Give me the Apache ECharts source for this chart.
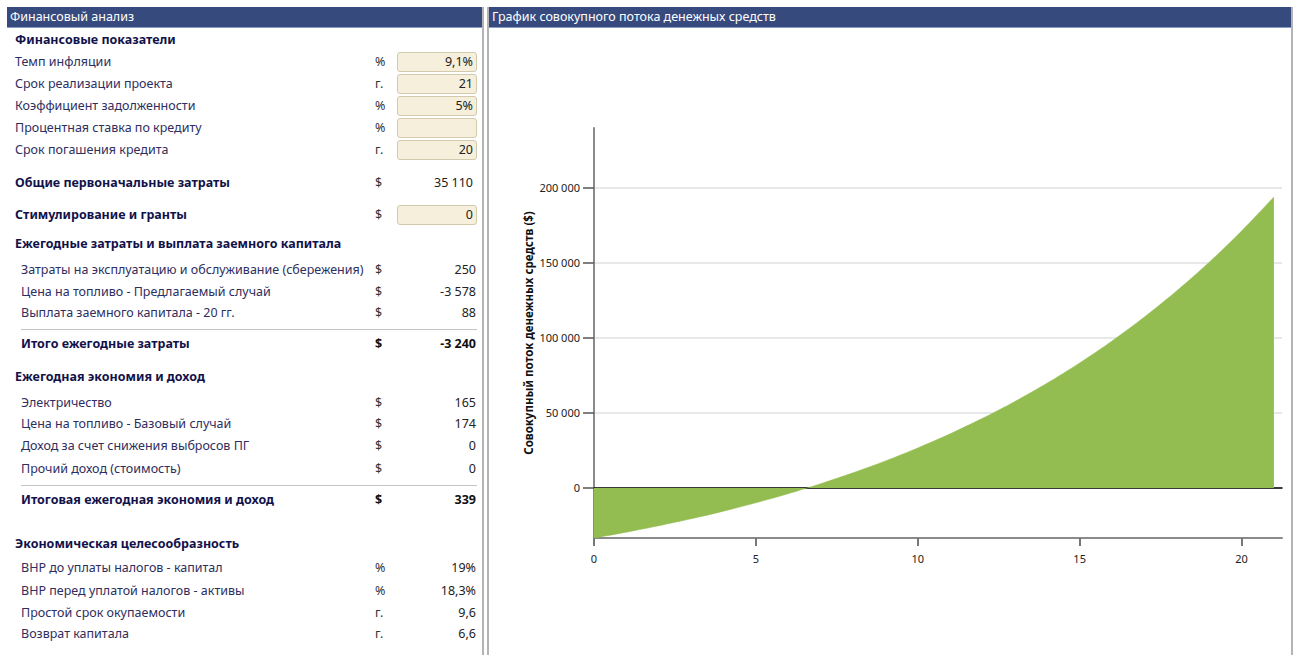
<!DOCTYPE html>
<html lang="ru">
<head>
<meta charset="utf-8">
<title>Финансовый анализ</title>
<script src="https://cdn.jsdelivr.net/npm/echarts@6.0.0/dist/echarts.min.js"></script>
<style>
  html, body { margin: 0; padding: 0; background: #fff; }
  body { width: 1299px; height: 655px; position: relative; overflow: hidden;
         font-family: "Noto Sans", "Open Sans", sans-serif; font-size: 12.5px; }
  .hdr { position: absolute; top: 7px; height: 20px; background: #364a7e;
         border-bottom: 1px solid #8d9cc6; color: #fff; line-height: 20px;
         padding-left: 3px; box-sizing: content-box; white-space: nowrap; }
  .vline { position: absolute; top: 7px; width: 2px; height: 648px; background: #b4b4b4; }
  .row { position: absolute; height: 18px; line-height: 18px; white-space: nowrap; }
  .lbl { color: #2e2e60; }
  .lbl.b { color: #12124a; font-weight: bold; }
  .lbl.i { left: 21px; }
  .lbl.o { left: 15px; }
  .unit { left: 375px; color: #333; }
  .unit.b { font-weight: bold; color: #111; }
  .val { left: 380px; width: 96px; text-align: right; color: #222; }
  .val.b { font-weight: bold; color: #111; }
  .box { position: absolute; left: 397px; width: 80px; height: 20px; box-sizing: border-box;
         background: #f6efdc; border: 1px solid #d3caae; border-radius: 3px;
         text-align: right; padding-right: 3px; line-height: 18px; color: #222; }
  .sep { position: absolute; left: 21px; width: 456px; height: 1px; background: #c4c4c4; }
  #chart { position: absolute; left: 489px; top: 28px; width: 803px; height: 627px; }
</style>
</head>
<body>
<!-- left panel: financial summary table -->
<div class="hdr" style="left:7px; width:473px;">Финансовый анализ</div>
<div class="vline" style="left:482px;"></div>

<div class="row lbl b o" style="top:31px;">Финансовые показатели</div>

<div class="row lbl o" style="top:53px;">Темп инфляции</div>
<div class="row unit" style="top:53px;">%</div>
<div class="box" style="top:52px;">9,1%</div>

<div class="row lbl o" style="top:75px;">Срок реализации проекта</div>
<div class="row unit" style="top:75px;">г.</div>
<div class="box" style="top:74px;">21</div>

<div class="row lbl o" style="top:97px;">Коэффициент задолженности</div>
<div class="row unit" style="top:97px;">%</div>
<div class="box" style="top:96px;">5%</div>

<div class="row lbl o" style="top:119px;">Процентная ставка по кредиту</div>
<div class="row unit" style="top:119px;">%</div>
<div class="box" style="top:118px;"></div>

<div class="row lbl o" style="top:141px;">Срок погашения кредита</div>
<div class="row unit" style="top:141px;">г.</div>
<div class="box" style="top:140px;">20</div>

<div class="row lbl b o" style="top:174px;">Общие первоначальные затраты</div>
<div class="row unit" style="top:174px;">$</div>
<div class="row val" style="top:174px; width:93px;">35 110</div>

<div class="row lbl b o" style="top:206px;">Стимулирование и гранты</div>
<div class="row unit" style="top:206px;">$</div>
<div class="box" style="top:205px;">0</div>

<div class="row lbl b o" style="top:235px;">Ежегодные затраты и выплата заемного капитала</div>

<div class="row lbl i" style="top:261px;">Затраты на эксплуатацию и обслуживание (сбережения)</div>
<div class="row unit" style="top:261px;">$</div>
<div class="row val" style="top:261px;">250</div>

<div class="row lbl i" style="top:283px;">Цена на топливо - Предлагаемый случай</div>
<div class="row unit" style="top:283px;">$</div>
<div class="row val" style="top:283px;">-3 578</div>

<div class="row lbl i" style="top:304px;">Выплата заемного капитала - 20 гг.</div>
<div class="row unit" style="top:304px;">$</div>
<div class="row val" style="top:304px;">88</div>

<div class="sep" style="top:329px;"></div>

<div class="row lbl b i" style="top:335px;">Итого ежегодные затраты</div>
<div class="row unit b" style="top:335px;">$</div>
<div class="row val b" style="top:335px;">-3 240</div>

<div class="row lbl b o" style="top:368px;">Ежегодная экономия и доход</div>

<div class="row lbl i" style="top:394px;">Электричество</div>
<div class="row unit" style="top:394px;">$</div>
<div class="row val" style="top:394px;">165</div>

<div class="row lbl i" style="top:415px;">Цена на топливо - Базовый случай</div>
<div class="row unit" style="top:415px;">$</div>
<div class="row val" style="top:415px;">174</div>

<div class="row lbl i" style="top:437px;">Доход за счет снижения выбросов ПГ</div>
<div class="row unit" style="top:437px;">$</div>
<div class="row val" style="top:437px;">0</div>

<div class="row lbl i" style="top:460px;">Прочий доход (стоимость)</div>
<div class="row unit" style="top:460px;">$</div>
<div class="row val" style="top:460px;">0</div>

<div class="sep" style="top:485px;"></div>

<div class="row lbl b i" style="top:491px;">Итоговая ежегодная экономия и доход</div>
<div class="row unit b" style="top:491px;">$</div>
<div class="row val b" style="top:491px;">339</div>

<div class="row lbl b o" style="top:535px;">Экономическая целесообразность</div>

<div class="row lbl i" style="top:559px;">ВНР до уплаты налогов - капитал</div>
<div class="row unit" style="top:559px;">%</div>
<div class="row val" style="top:559px;">19%</div>

<div class="row lbl i" style="top:582px;">ВНР перед уплатой налогов - активы</div>
<div class="row unit" style="top:582px;">%</div>
<div class="row val" style="top:582px;">18,3%</div>

<div class="row lbl i" style="top:604px;">Простой срок окупаемости</div>
<div class="row unit" style="top:604px;">г.</div>
<div class="row val" style="top:604px;">9,6</div>

<div class="row lbl i" style="top:625px;">Возврат капитала</div>
<div class="row unit" style="top:625px;">г.</div>
<div class="row val" style="top:625px;">6,6</div>

<!-- right panel: cumulative cash flow chart -->
<div class="vline" style="left:487px;"></div>
<div class="vline" style="left:1291px;"></div>
<div class="hdr" style="left:489px; width:799px;">График совокупного потока денежных средств</div>
<div id="chart"></div>

<script>
// Project years and cumulative cash flow ($) at the end of each year
const years = [0, 1, 2, 3, 4, 5, 6, 7, 8, 9, 10, 11, 12, 13, 14, 15, 16, 17, 18, 19, 20, 21];
const cumulativeCashFlow = [
  -33354, -29453, -25190, -20530, -15438, -9875, -3798, 2840, 10091, 18009, 26656,
  36098, 46407, 57662, 69949, 83362, 98004, 113987, 131432, 150472, 171253, 194021
];
const yTickValues = [0, 50000, 100000, 150000, 200000];
const yAxisTitle = 'Совокупный поток денежных средств ($)';

const fmtThousands = v => String(Math.round(v)).replace(/\B(?=(\d{3})+(?!\d))/g, ' ');

const chart = echarts.init(document.getElementById('chart'), null, { renderer: 'svg' });
const textFont = '"Noto Sans", "Open Sans", sans-serif';

chart.setOption({
  animation: false,
  textStyle: { fontFamily: textFont },
  grid: { left: 105, right: 10, top: 100, bottom: 117 },
  xAxis: [
    {
      type: 'value', min: 0, max: 21.25, interval: 5,
      axisLine: { onZero: false, lineStyle: { color: '#8a8a8a', width: 2 } },
      axisTick: { length: 8, lineStyle: { color: '#777', width: 2 } },
      axisLabel: { color: '#222', fontSize: 11, margin: 15, fontFamily: textFont, showMaxLabel: false },
      splitLine: { show: false }
    },
    {
      // zero reference line, drawn under the filled area
      type: 'value', min: 0, max: 21.25,
      axisLine: { onZero: true, lineStyle: { color: '#000', width: 1.5 } },
      axisTick: { show: false }, axisLabel: { show: false }, splitLine: { show: false }
    }
  ],
  yAxis: {
    type: 'value', min: 'dataMin', max: 240000,
    name: yAxisTitle, nameLocation: 'middle', nameGap: 60, nameRotate: 90,
    nameMoveOverlap: false,
    nameTextStyle: { fontWeight: 'bold', fontSize: 11.5, color: '#111', fontFamily: textFont },
    axisLine: { show: true, lineStyle: { color: '#8a8a8a', width: 2 } },
    axisTick: { show: true, length: 11, customValues: yTickValues, lineStyle: { color: '#555', width: 1.5 } },
    axisLabel: { customValues: yTickValues, formatter: fmtThousands, color: '#222', fontSize: 11, margin: 14, fontFamily: textFont },
    splitLine: { show: true, lineStyle: { color: '#e0e0e0', width: 1.5 } }
  },
  series: [{
    type: 'line',
    xAxisIndex: 0,
    data: years.map((y, i) => [y, cumulativeCashFlow[i]]),
    smooth: 0.3,
    symbol: 'none',
    lineStyle: { width: 0.5, color: '#93bd51' },
    areaStyle: { color: '#93bd51', opacity: 1 },
    z: 3
  }]
});
</script>
</body>
</html>
